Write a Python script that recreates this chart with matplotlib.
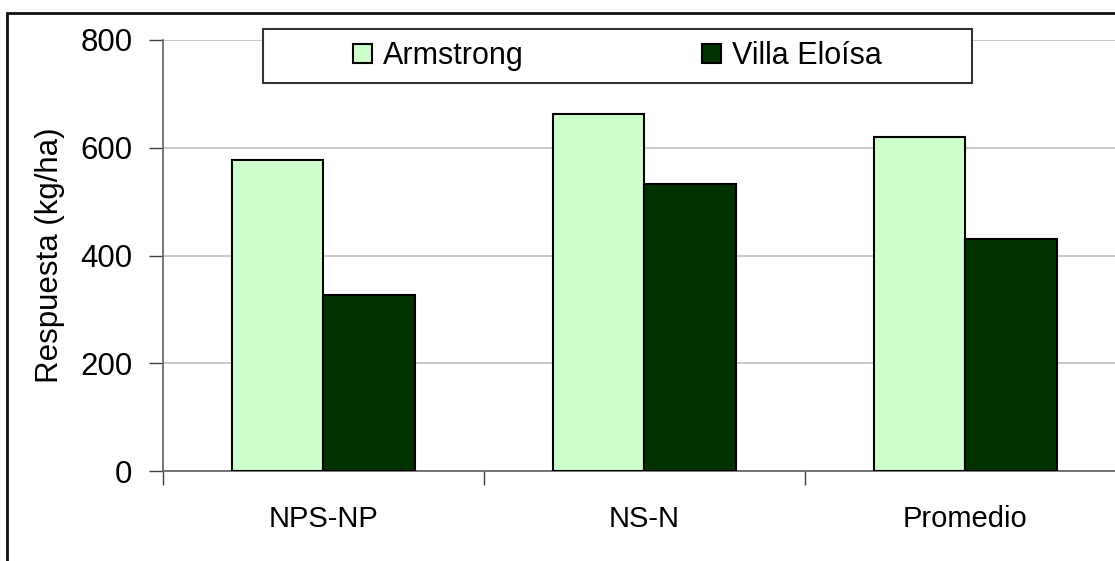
import numpy as np
import matplotlib
matplotlib.use('Agg')
import matplotlib.pyplot as plt
from matplotlib.patches import Rectangle

plt.rcParams['font.family'] = ['Liberation Sans', 'DejaVu Sans']

categories = ['NPS-NP', 'NS-N', 'Promedio']
series     = ['Armstrong', 'Villa Eloísa']
armstrong  = [578, 662, 621]
villa      = [327, 533, 430]
colors     = ['#CCFFCC', '#003300']
yticks     = [0, 200, 400, 600, 800]

W, H = 1115, 561
fig = plt.figure(figsize=(W / 100, H / 100), dpi=100)
ax = fig.add_axes([163 / W, 1 - 471.3 / H, 963 / W, 431.3 / H])

x = np.arange(len(categories))
bw = 0.285
for i, (vals, name) in enumerate(zip([armstrong, villa], series)):
    ax.bar(x + (i - 0.5) * bw, vals, width=bw, color=colors[i],
           edgecolor='black', linewidth=1.5, label=name, zorder=3)

ax.set_xlim(-0.5, len(categories) - 0.5)
ax.set_ylim(0, 800)
ax.set_yticks(yticks)
ax.tick_params(axis='y', labelsize=22.5, length=10, width=1, direction='out',
               pad=12, color='#404040')
ax.yaxis.grid(True, color='#c0c0c0', linewidth=1.2, zorder=0)
ax.set_axisbelow(True)

# category boundaries as major ticks, labels at centres
ax.set_xticks(np.arange(len(categories) + 1) - 0.5)
ax.set_xticklabels([])
ax.set_xticks(x, minor=True)
ax.set_xticklabels(categories, minor=True)
ax.tick_params(axis='x', which='major', length=10, width=1, color='#404040')
ax.tick_params(axis='x', which='minor', length=0, labelsize=21, pad=24)

for s in ['top', 'right']:
    ax.spines[s].set_visible(False)
for s in ['left', 'bottom']:
    ax.spines[s].set_color('#606060')
    ax.spines[s].set_linewidth(1.2)

ax.set_ylabel('Respuesta (kg/ha)', fontsize=22.5)
ax.yaxis.set_label_coords(-0.102, 0.5)

handles, labels = ax.get_legend_handles_labels()
leg = fig.legend(handles, labels, loc='center',
                 bbox_to_anchor=(617.5 / W, 1 - 56 / H), ncol=2, frameon=False,
                 fontsize=22, handlelength=0.6, handleheight=0.6,
                 handletextpad=0.36, columnspacing=5.85)
leg.set_zorder(5)
for h in leg.legend_handles:
    h.set_linewidth(1.5)

# legend box and outer chart border
fig.patches.append(Rectangle((263 / W, 1 - 83 / H), 709 / W, 54 / H,
                             transform=fig.transFigure, facecolor='white',
                             edgecolor='#333333', linewidth=1.5, zorder=2))
fig.patches.append(Rectangle((7 / W, -0.1), 1.2, 1 - 13 / H + 0.1,
                             transform=fig.transFigure, fill=False,
                             edgecolor='#111111', linewidth=2))

fig.savefig('out.png', dpi=100)
plt.close(fig)
